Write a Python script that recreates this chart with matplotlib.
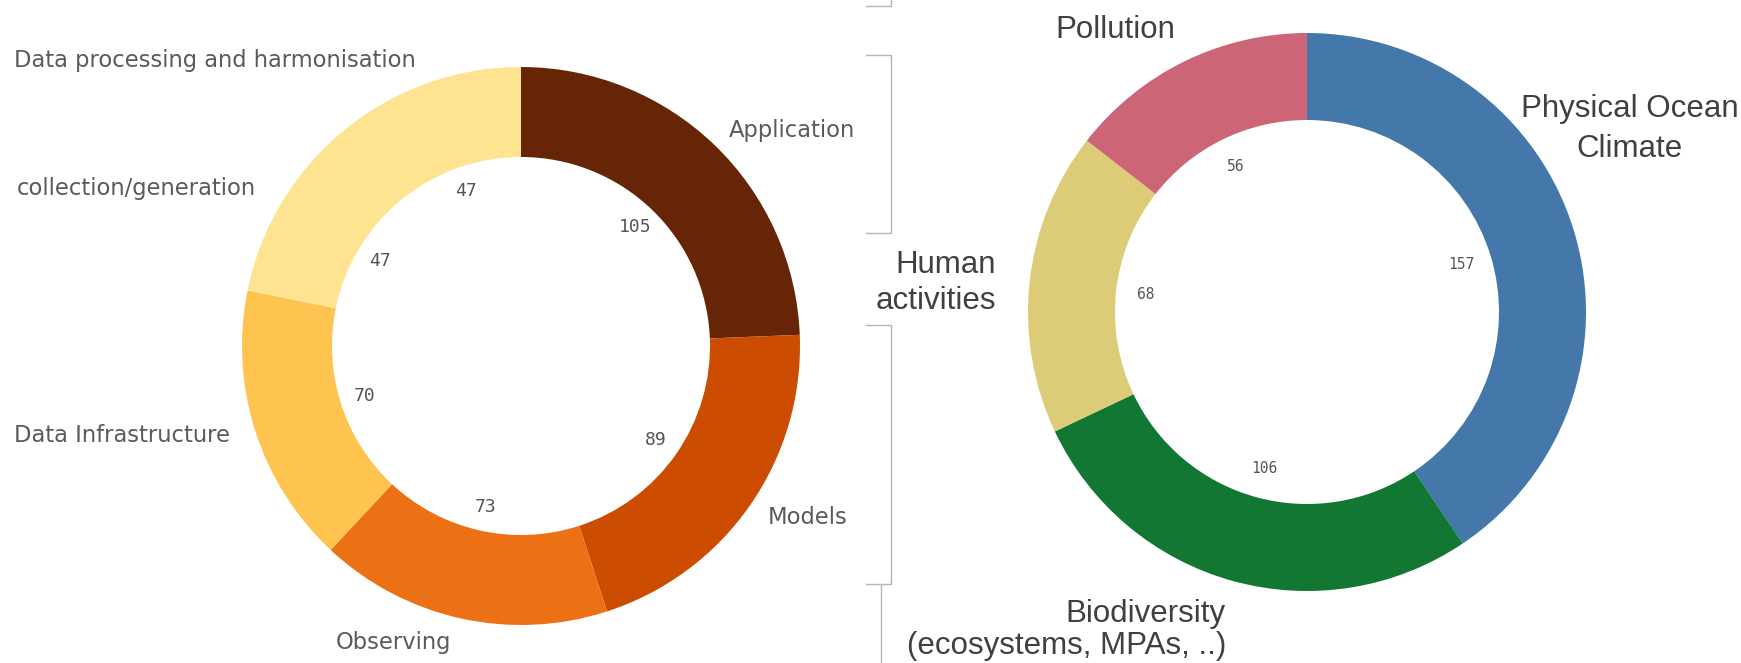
import matplotlib
matplotlib.use("Agg")
import matplotlib.pyplot as plt

# left donut: topics
topics = ["Application", "Models", "Observing", "Data Infrastructure",
          "collection/generation", "Data processing and harmonisation"]
topic_counts = [105, 89, 73, 70, 47, 47]
topic_colors = ["#662506", "#cc4c02", "#ec7014", "#fec44f", "#fee391", "#fee391"]

# right donut: themes
themes = ["Physical Ocean\nClimate", "Biodiversity\n(ecosystems, MPAs, ..)",
          "Human\nactivities", "Pollution"]
theme_counts = [157, 106, 68, 56]
theme_colors = ["#4477aa", "#117733", "#ddcc77", "#cc6677"]

W, H = 1741, 663


def value_fmt(counts):
    total = sum(counts)
    return lambda p: "%d" % round(p * total / 100.0)


fig = plt.figure(figsize=(W / 100, H / 100), dpi=100)
ax = fig.add_axes([0, 0, 1, 1])

_, _, left_vals = ax.pie(topic_counts, colors=topic_colors, startangle=90, counterclock=False,
                         center=(521, H - 346), radius=279, autopct=value_fmt(topic_counts),
                         pctdistance=0.59, wedgeprops=dict(width=90, linewidth=0))
for t in left_vals:
    t.set_fontfamily("DejaVu Sans Mono")
    t.set_fontsize(13)
    t.set_color("#555555")

_, _, right_vals = ax.pie(theme_counts, colors=theme_colors, startangle=90, counterclock=False,
                          center=(1307, H - 312), radius=279, autopct=value_fmt(theme_counts),
                          pctdistance=0.58, wedgeprops=dict(width=87, linewidth=0))
for t in right_vals:
    t.set_fontfamily("DejaVu Sans Mono")
    t.set_fontsize(10.5)
    t.set_color("#555555")

ax.set_xlim(0, W)
ax.set_ylim(0, H)
ax.set_aspect("equal")
ax.axis("off")

# category labels, left chart
lab = dict(fontfamily="DejaVu Sans", fontsize=16.3, color="#5a5a5a", va="center")
ax.text(14, H - 61, topics[5], ha="left", **lab)
ax.text(17, H - 189, topics[4], ha="left", **lab)
ax.text(14, H - 435, topics[3], ha="left", **lab)
ax.text(336, H - 642, topics[2], ha="left", **lab)
ax.text(768, H - 517, topics[1], ha="left", **lab)
ax.text(729, H - 130, topics[0], ha="left", **lab)

# category labels, right chart
lab2 = dict(fontfamily="Liberation Sans", fontsize=22.5, color="#404040", va="center")
ax.text(1115, H - 30, themes[3], ha="center", **lab2)
ax.text(1630, H - 129, themes[0], ha="center", multialignment="center", linespacing=1.45, **lab2)
ax.text(996, H - 283, themes[2], ha="right", multialignment="right", linespacing=1.3, **lab2)
ax.text(1226, H - 630, themes[1], ha="right", multialignment="right", linespacing=1.12, **lab2)

# leftover frame lines between the two panels
grey = dict(color="#b5b5b5", linewidth=1)
ax.plot([866, 891, 891], [H - 6, H - 6, H], **grey)
ax.plot([866, 891, 891, 866], [H - 55, H - 55, H - 233, H - 233], **grey)
ax.plot([866, 891, 891, 866], [H - 325, H - 325, H - 584, H - 584], **grey)
ax.plot([881, 881], [H - 584, 0], **grey)

fig.savefig("out.png", dpi=100, facecolor="white")
